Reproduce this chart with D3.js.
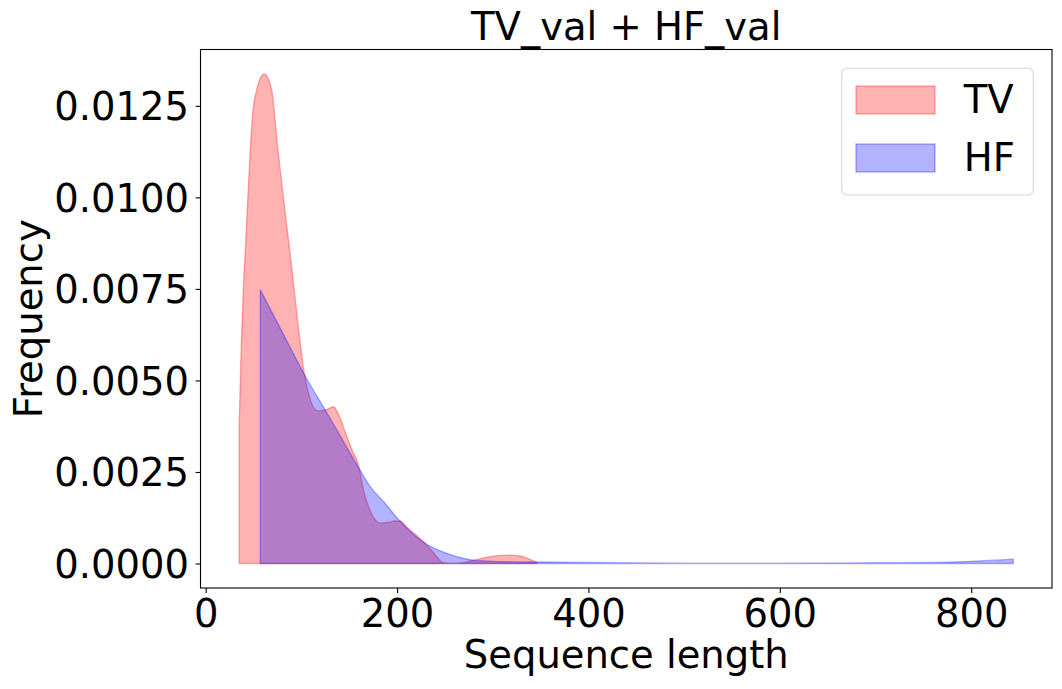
<!DOCTYPE html>
<html>
<head>
<meta charset="utf-8">
<script src="https://cdn.jsdelivr.net/npm/d3@7"></script>
<style>
  body { margin: 0; background: #fff; }
  text { font-family: "DejaVu Sans", sans-serif; fill: #000; }
</style>
</head>
<body>
<div id="chart"></div>
<script>
// TV density curve (sequence length, frequency)
var tvLength = [35, 37, 39.5, 41.5, 46.6, 49.5, 53, 57, 61.2, 65, 69.2, 75.5, 83, 88.5, 92, 98, 103, 108, 113, 118, 126, 133.5, 140, 147, 153, 160, 165, 171, 177, 182, 190, 197, 203, 210, 219, 229, 238, 248, 258, 270, 285, 300, 318, 330, 340, 346];
var tvFreq = [0.0038, 0.0058, 0.0076, 0.0086, 0.0113, 0.0124, 0.0129, 0.01325, 0.01337, 0.01326, 0.0129, 0.0113, 0.0096, 0.0084, 0.0076, 0.0062, 0.0052, 0.0046, 0.00425, 0.00417, 0.0042, 0.00428, 0.0040, 0.0035, 0.0031, 0.00266, 0.0020, 0.0015, 0.0012, 0.00111, 0.00112, 0.00116, 0.00116, 0.0010, 0.0008, 0.00056, 0.0003, 0.00003, 0.0, 0.00003, 0.00012, 0.0002, 0.00023, 0.0002, 0.0001, 0.00003];

// HF density curve
var hfLength = [57, 80, 103, 130, 158, 172, 187, 201.5, 215, 229, 242, 255, 268, 280, 300, 349, 400, 500, 600, 700, 760, 800, 844];
var hfFreq = [0.00748, 0.00632, 0.00517, 0.00397, 0.0027, 0.0021, 0.00166, 0.0012, 0.00085, 0.00056, 0.00038, 0.00025, 0.00015, 0.00009, 0.00006, 0.00004, 0.00003, 0.00001, 0.00001, 0.00002, 0.00003, 0.00006, 0.00012];

var xTicks = [0, 200, 400, 600, 800];
var yTicks = [0, 0.0025, 0.005, 0.0075, 0.01, 0.0125];
var seriesNames = ["TV", "HF"];
var seriesColors = ["red", "blue"];

var W = 1062, H = 689;
var margin = { top: 49.5, right: 10, bottom: 101, left: 200.5 };
var width = W - margin.left - margin.right,
    height = H - margin.top - margin.bottom;
var fs = 38.5;

var svg = d3.select("#chart").append("svg")
    .attr("width", W)
    .attr("height", H);

var g = svg.append("g")
    .attr("transform", "translate(" + margin.left + "," + margin.top + ")");

var tv = tvLength.map(function (d, i) { return { x: d, y: tvFreq[i] }; });
var hf = hfLength.map(function (d, i) { return { x: d, y: hfFreq[i] }; });
var series = [tv, hf];

// matplotlib style 5% margins
var xMin = d3.min([d3.min(tvLength), d3.min(hfLength)]),
    xMax = d3.max([d3.max(tvLength), d3.max(hfLength)]);
var yMax = d3.max([d3.max(tvFreq), d3.max(hfFreq)]);
var xPad = (xMax - xMin) * 0.05, yPad = yMax * 0.05;

var x = d3.scaleLinear().domain([xMin - xPad, xMax + xPad]).range([0, width]);
var y = d3.scaleLinear().domain([-yPad, yMax + yPad]).range([height, 0]);

var area = d3.area()
    .x(function (d) { return x(d.x); })
    .y0(y(0))
    .y1(function (d) { return y(d.y); })
    .curve(d3.curveMonotoneX);

series.forEach(function (s, i) {
    g.append("path")
        .datum(s)
        .attr("d", area)
        .attr("fill", seriesColors[i])
        .attr("fill-opacity", 0.3)
        .attr("stroke", seriesColors[i])
        .attr("stroke-opacity", 0.3)
        .attr("stroke-width", 1.4);
});

// axes
var xAxis = d3.axisBottom(x).tickValues(xTicks).tickSize(4.9).tickPadding(4.9).tickFormat(d3.format("d"));
var yAxis = d3.axisLeft(y).tickValues(yTicks).tickSize(4.9).tickPadding(4.9).tickFormat(d3.format(".4f"));

var gx = g.append("g")
    .attr("class", "x-axis axis")
    .attr("transform", "translate(0," + height + ")")
    .call(xAxis);
var gy = g.append("g")
    .attr("class", "y-axis axis")
    .call(yAxis);

[gx, gy].forEach(function (a) {
    a.select(".domain").remove();
    a.selectAll(".tick line").attr("stroke", "#000").attr("stroke-width", 1.1);
    a.selectAll(".tick text").style("font-size", fs + "px").attr("fill", "#000");
});
gx.selectAll(".tick text").attr("dy", null).attr("y", 38.8);
gy.selectAll(".tick text").attr("dy", "0.36em").attr("x", -11.5);

// frame
g.append("rect")
    .attr("width", width)
    .attr("height", height)
    .attr("fill", "none")
    .attr("stroke", "#000")
    .attr("stroke-width", 1.1);

// title and labels
svg.append("text")
    .attr("x", margin.left + width / 2)
    .attr("y", 39.5)
    .attr("text-anchor", "middle")
    .style("font-size", fs + "px")
    .text("TV_val + HF_val");

svg.append("text")
    .attr("x", margin.left + width / 2)
    .attr("y", 668)
    .attr("text-anchor", "middle")
    .style("font-size", fs + "px")
    .text("Sequence length");

svg.append("text")
    .attr("transform", "translate(42," + (margin.top + height / 2) + ") rotate(-90)")
    .attr("text-anchor", "middle")
    .style("font-size", fs + "px")
    .text("Frequency");

// legend
var lg = svg.append("g").attr("transform", "translate(841.7,68.3)");
lg.append("rect")
    .attr("width", 191.6)
    .attr("height", 126.7)
    .attr("rx", 5.5)
    .attr("fill", "#fff")
    .attr("fill-opacity", 0.8)
    .attr("stroke", "#d6d6d6")
    .attr("stroke-width", 1.1);

seriesNames.forEach(function (name, i) {
    var row = lg.append("g").attr("transform", "translate(0," + (i * 58) + ")");
    row.append("rect")
        .attr("x", 14.3)
        .attr("y", 17.7)
        .attr("width", 79)
        .attr("height", 28)
        .attr("fill", seriesColors[i])
        .attr("fill-opacity", 0.3)
        .attr("stroke", seriesColors[i])
        .attr("stroke-opacity", 0.3)
        .attr("stroke-width", 1.4);
    row.append("text")
        .attr("x", 122)
        .attr("y", 45)
        .style("font-size", fs + "px")
        .text(name);
});
</script>
</body>
</html>
